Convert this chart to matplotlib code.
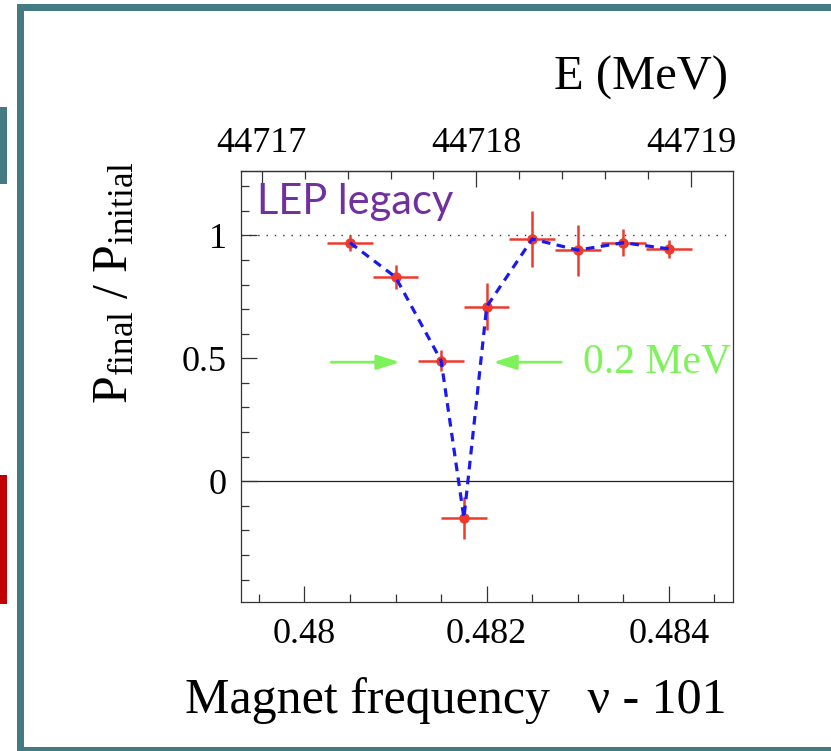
import matplotlib
matplotlib.use("Agg")
import matplotlib.pyplot as plt
from matplotlib.patches import Rectangle
from matplotlib.ticker import MultipleLocator, FixedLocator, FuncFormatter

# data
freq = [0.4805, 0.481, 0.4815, 0.48175, 0.482, 0.4825, 0.483, 0.4835, 0.484]
pol = [0.97, 0.83, 0.49, -0.15, 0.71, 0.985, 0.94, 0.97, 0.945]
pol_err = [0.033, 0.05, 0.042, 0.084, 0.096, 0.115, 0.104, 0.054, 0.038]
freq_err = [0.00025] * 9

# top energy axis: E = E0 + (nu - nu0) / slope
E0 = 44717.0
nu0 = 0.479532
slope = 0.002355
E_ticks = [44717, 44718, 44719]
E_minor = [44716.8, 44717.2, 44717.4, 44717.6, 44717.8,
           44718.2, 44718.4, 44718.6, 44718.8, 44719.2]

RED = "#ee3a2c"
BLUE = "#1a1aee"
GREEN = "#7ef25a"
PURPLE = "#7030a0"
TEAL = "#447a82"

plt.rcParams["font.family"] = ["Liberation Serif", "DejaVu Serif"]
plt.rcParams["mathtext.fontset"] = "custom"
plt.rcParams["mathtext.rm"] = "Liberation Serif"
plt.rcParams["mathtext.it"] = "Liberation Serif:italic"

W, H = 831, 751
fig = plt.figure(figsize=(W / 100, H / 100), dpi=100)
fig.patch.set_facecolor("white")


def px_box(x0, y0, x1, y1, color):
    # rectangle given in pixel coords measured from the top-left corner
    fig.add_artist(Rectangle((x0 / W, 1 - y1 / H), (x1 - x0) / W, (y1 - y0) / H,
                             transform=fig.transFigure, facecolor=color,
                             edgecolor="none", zorder=0))


# slide frame and side markers
px_box(17, 4, 24, 751, TEAL)
px_box(17, 4, 831, 11, TEAL)
px_box(17, 747, 831, 751, TEAL)
px_box(0, 107, 7, 184, TEAL)
px_box(0, 475, 7, 604, "#c00000")

ax = fig.add_axes([240.7 / W, 1 - 601.7 / H, 492 / W, 430.3 / H])

ax.axhline(1, color="#333333", lw=1.0, linestyle=(0, (1, 5)), zorder=1)
ax.axhline(0, color="#222222", lw=0.9, zorder=1)

ax.errorbar(freq, pol, xerr=freq_err, yerr=pol_err, fmt="o", color=RED,
            ms=6.5, elinewidth=1.8, capsize=0, zorder=3)
ax.plot(freq, pol, color=BLUE, lw=2.3, dashes=(2.7, 2.0), zorder=4)

ax.set_xlim(0.4793, 0.4847)
ax.set_ylim(-0.49, 1.26)

for s in ax.spines.values():
    s.set_linewidth(0.9)
    s.set_color("#333333")

ax.xaxis.set_major_locator(MultipleLocator(0.002))
ax.xaxis.set_minor_locator(MultipleLocator(0.0005))
ax.yaxis.set_major_locator(MultipleLocator(0.5))
ax.yaxis.set_minor_locator(MultipleLocator(0.1))
ax.xaxis.set_major_formatter(FuncFormatter(lambda v, p: f"{v:g}"))
ax.yaxis.set_major_formatter(FuncFormatter(lambda v, p: f"{v:g}"))
ax.tick_params(which="both", direction="in", top=False, right=False,
               color="#333333", width=0.9, labelsize=26)
ax.tick_params(which="major", length=11.5)
ax.tick_params(which="minor", length=6)
ax.tick_params(axis="x", which="major", pad=12)
ax.tick_params(axis="y", which="major", pad=10)

secax = ax.secondary_xaxis("top", functions=(lambda x: E0 + (x - nu0) / slope,
                                             lambda e: nu0 + (e - E0) * slope))
secax.xaxis.set_major_locator(FixedLocator(E_ticks))
secax.xaxis.set_minor_locator(FixedLocator(E_minor))
secax.xaxis.set_major_formatter(FuncFormatter(lambda v, p: f"{v:.0f}"))
secax.tick_params(which="both", direction="in", color="#333333", width=0.9,
                  labelsize=26)
secax.tick_params(which="major", length=11.5, pad=8)
secax.tick_params(which="minor", length=6)
secax.spines["top"].set_linewidth(0.9)
secax.spines["top"].set_color("#333333")

# annotations
ax.text(0.033, 1.137, "LEP legacy", transform=ax.get_yaxis_transform(),
        family="Lato", fontsize=30, color=PURPLE, ha="left", va="center")
ax.annotate("", xy=(0.481046, 0.484), xytext=(0.480294, 0.484),
            arrowprops=dict(arrowstyle="-|>,head_length=1.4,head_width=0.45",
                            color=GREEN, lw=2, shrinkA=0, shrinkB=0))
ax.annotate("", xy=(0.482073, 0.484), xytext=(0.482818, 0.484),
            arrowprops=dict(arrowstyle="-|>,head_length=1.4,head_width=0.45",
                            color=GREEN, lw=2, shrinkA=0, shrinkB=0))
ax.text(0.48306, 0.484, "0.2 MeV", fontsize=30, color=GREEN,
        ha="left", va="center")

fig.text(728 / W, 1 - 90 / H, "E (MeV)", fontsize=35, ha="right", va="baseline")
fig.text(727 / W, 1 - 713 / H, "Magnet frequency   \u03bd - 101", fontsize=36,
         ha="right", va="baseline")
fig.text(115 / W, 1 - 283 / H, r"$\mathrm{P_{final}\ /\ P_{initial}}$",
         fontsize=36, rotation=90, ha="center", va="center")

fig.savefig("out.png", dpi=100)
